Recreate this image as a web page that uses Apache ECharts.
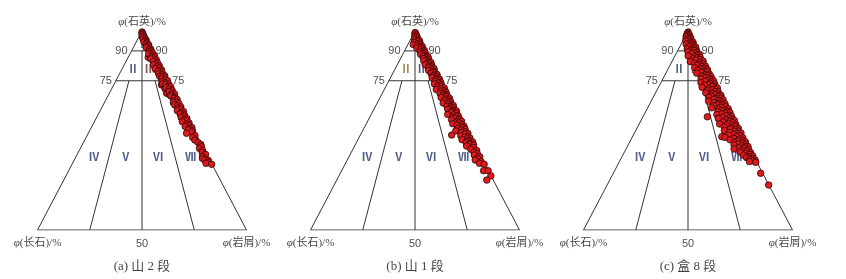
<!DOCTYPE html>
<html><head><meta charset="utf-8">
<script src="https://cdn.jsdelivr.net/npm/echarts@6/dist/echarts.min.js"></script>
<style>html,body{margin:0;padding:0;background:#fff}#c{width:846px;height:279px}</style>
</head><body><div id="c"></div>
<script>
// ---- data: [quartz %, feldspar %] (lithics = 100 - Q - F) ----
const panelCaptions = ['(a) 山 2 段', '(b) 山 1 段', '(c) 盒 8 段'];
const apexTitle = 'φ(石英)/%';
const leftTitle = 'φ(长石)/%';
const rightTitle = 'φ(岩屑)/%';
const tickLabels = ['90', '75', '50'];
const regionNames = ['Ⅰ','Ⅱ','Ⅲ','Ⅳ','Ⅴ','Ⅵ','Ⅶ'];

const ptsA = [
[99.5,0.2],[99,0.5],[98.5,0.3],[98,1],[97.5,0.4],[97,1.2],[96.5,0.5],[96,1.5],[95.5,0.3],[95,0.9],[94.5,1.8],[94,0.6],[93.5,1.2],[93,0.3],[92.5,1.6],[92,0.8],[91.5,2.2],[91,0.4],[90.5,1.3],[90,0.6],
[86.8,3.6],
[89.5,1.8],[89,0.5],[88.5,2.5],[88,1],[87.5,0.3],[87,1.8],[86.5,0.8],[86,2.8],[85.5,0.4],[85,1.5],[84.5,2.4],[84,0.6],[83.5,1.4],[83,3],[82.5,0.5],[82,2],[81.5,1],[81,3.2],[80.5,0.4],[80,1.6],[79.7,2.4],[79,0.8],[78.5,2.8],[78,1.4],[77.5,0.4],[77.2,2.9],[77,1.8],[76.5,0.8],[76,2.5],[75.5,1.2],[75,0.3],[74.5,3.2],[74,1.8],
[72.9,4.2],[68.7,3.9],[67.8,2.8],[73.5,3.4],[71,3.5],
[73.5,0.6],[73,2.2],[72.3,1.2],[72,0.3],[71.5,2.6],[70.8,1.5],[70.2,0.5],[69.6,2.2],[69,1],[68.4,0.2],[68,1.8],[67.3,2.5],[66.8,0.8],[66.2,1.6],[65.6,0.4],[65,2.4],[64.5,1.2],[64,3],[63.5,0.6],[62.8,2.9],[62.4,1.6],[61.8,0.5],[61.2,2.3],[60.6,1.2],[60,3.1],[59.5,0.4],[59,1.8],[58.3,2.6],[57.8,0.8],[57.2,1.6],[56.5,3],[56,0.5],[55.5,2.1],[55,1.2],[54.4,3.5],[53.8,0.6],[53.2,2],[52.6,1.2],[52,3.3],[51.5,0.4],[51,1.8],[50.3,2.6],[49.8,0.9],[49.2,1.7],[48.6,4.4],
[47.5,0.9],[46.5,2.5],[45.2,2.1],[44,1.2],[43,0.4],[41.9,0.6],[41,2],[40,1],[39,1.7],[38,0.6],[37,2.5],[36,3.1],[35.2,2.4],[35,0.8],[34,1.4],[33.5,2.6],[33,0.2]
];

const ptsB = [
[99.2,0.3],[98.6,0.8],[98,0.3],[97.5,1.2],[97,0.5],[96.6,1.8],[96,0.8],[95.5,2.4],[95.2,0.3],[94.8,1.4],[94.2,3.3],[94,0.6],[93.6,2],[93.2,4.2],[93,1],[92.6,2.8],[92.2,0.4],[91.8,1.6],[91.4,3.4],[91,0.8],[90.6,2.2],[90.2,0.4],[89.8,1.5],[89.4,2.8],[89,0.6],[88.6,1.8],[88.2,3.2],[87.8,0.9],[87.4,2.2],[87,0.3],[86.6,1.4],[86.2,2.8],[85.8,0.6],[85.4,1.9],[85,3.3],[84.6,1],[84.2,0.3],[83.8,2.4],[83.4,1.3],[83,3.6],[82.6,0.6],[82.2,2],[81.8,1],[81.4,2.9],[81,0.4],[80.6,1.7],[80.2,3.4],[79.8,0.8],[79.4,2.3],[79,1.2],[78.6,3],[78.2,0.4],[77.8,1.8],[77.4,2.7],[77,0.8],[76.6,3.5],[76.2,1.5],[75.8,0.4],[75.4,2.4],[75,1.1],
[74.6,3.2],[74.2,0.6],[73.8,1.8],[73.4,4],[73,0.9],[72.6,2.6],[72.2,1.4],[71.8,3.4],[71.4,0.3],[71,2],[70.6,4.5],[70.2,1.1],[69.8,2.9],[69.4,0.5],[69,1.7],[68.6,3.7],[68.2,2.3],[67.8,0.8],[67.4,3],[67,1.5],[66.6,4.2],[66.2,0.4],[65.8,2.4],[65.4,1.2],[65,3.4],[64.6,0.7],[64.2,2],[63.8,4.6],[63.4,1.4],[63,2.8],[62.6,0.4],[62.2,3.6],[61.8,1.8],[61.4,0.9],[61,2.6],[60.6,4],[60.2,1.3],[59.8,0.3],[59.4,2.2],[59,3.3],[58.6,1],[58.1,5.3],[57.8,2.5],[57.4,0.6],[57,1.7],[56.6,3.8],[56.2,2.8],[55.8,0.9],[55.4,4.8],[55,1.8],[54.6,0.4],[54.2,3],[53.8,2],[53.4,5.2],[53,1],[52.6,3.6],[52.2,0.5],[51.8,2.4],[51.4,1.4],[51,4],[50.6,0.7],[50.2,2.8],[49.8,5.6],[49.4,1.6],[49,3.4],[48.6,0.4],[48.2,2.2],[47.7,8.6],[47.4,4.4],[47,1.2],[46.6,3],[46.2,0.6],[45.8,2],[45.4,4.8],[45,1.4],[44.6,2.8],[44.2,0.3],[43.8,3.6],[43.4,1.6],[43,2.4],[42.6,0.6],[42.2,4.2],
[41.5,1.4],[40.6,3],[40,0.5],[39.2,2.2],[38.4,1],[37.7,2.8],[36.8,0.6],[36,2],[35.2,3.6],[34.4,1.2],[33.5,2.4],[33,0.4],
[29.8,2.3],[29.8,0.1],[27.2,0.1],[25.1,3.1]
];

const ptsC = [
[99.5,0.2],[99,0.6],[98.5,1.2],[98.2,0.3],[97.8,1.8],[97.4,0.8],[97,2.4],[96.6,0.4],[96.2,1.4],[95.8,3],[95.5,0.8],[95.1,2],[94.8,3.6],[94.4,0.4],[94,1.5],[93.7,2.8],[93.3,4.2],[93,0.9],[92.6,2.2],[92.2,3.5],[91.9,0.4],[91.5,1.6],[91.1,4.8],[90.8,2.8],[90.4,0.8],[90,3.8],[90.2,1.9],
[89.6,5.2],[89.3,1.2],[89,2.6],[88.6,4],[88.3,0.4],[87.9,1.8],[87.5,6.2],[87.2,3.2],[86.8,0.8],[86.4,2.4],[86,4.6],[85.7,1.4],[85.3,3.6],[84.9,0.3],[84.6,6.6],[84.2,2],[83.8,5],[83.5,1],[83.1,3],[82.8,4.4],[82.4,0.5],[82,2.4],[81.6,6],[81.3,1.5],[80.9,3.6],[80.6,0.4],[80.2,5.2],[79.8,2.2],[79.5,1],[79.1,4],[78.8,6.4],[78.4,0.6],[78,2.8],[77.7,1.6],[77.3,4.8],[77,0.4],[76.6,3.4],[76.3,2],[75.9,5.8],[75.6,1],[75.2,3],[75,0.3],
[74.7,4.4],[74.4,1.6],[74,6.8],[73.7,2.6],[73.4,0.5],[73,3.8],[72.7,5.6],[72.4,1.2],[72,2.4],[71.7,7.4],[71.4,0.3],[71,4.6],[70.7,1.8],[70.4,3.2],[70,5.8],[69.7,0.8],[69.4,2.6],[69,7],[68.7,4],[68.4,1.4],[68,3],[67.7,0.4],[67.4,5.2],[67,2],[66.7,6.6],[66.4,1],[66,3.6],[65.7,4.8],[65.4,0.5],[65,2.6],[64.7,7.8],[64.4,1.6],[64,5.6],[63.7,3.2],[63.4,0.6],[63,4.4],[62.7,2.2],[62.4,6.4],[62,1],[61.7,3.4],[61.4,8],[61,0.3],[60.7,5],[60.4,2.2],[60,3.8],[59.7,1.2],[59.4,6],[59,0.4],[58.7,2.8],[58.4,4.6],[58,7.2],[57.7,1.6],[57.4,3.2],[56.9,12.3],[56.1,7.4],[57,0.6],[56.6,5.4],[56.3,2.2],[56,7.4],[55.6,1],[55.3,4],[55,0.3],[54.7,2.8],[54.3,6.2],[54,1.6],[53.7,3.6],[53.3,8.2],[53,0.6],[52.7,5],[52.4,2.4],[52,1.2],[51.7,6.8],[51.4,3.4],[51,0.4],[50.7,4.4],[50.4,2],[50,7.6],[49.7,1],[49.4,3],[49,5.6],[48.7,0.3],[48.4,2.2],[48,4],[47.7,6.8],[47.4,1.4],[47,3.2],[46.9,10.4],[46.5,9],[46.3,0.6],[46,5],[45.7,2.4],[45.3,7.2],[45,1.2],[44.7,3.8],[44.3,0.4],[44,5.8],[43.7,2],[43.3,4.4],[43,1],[42.7,6.6],[42.3,3],[42,0.3],[41.7,1.8],[41.3,5],[41,2.8],[40.7,7.6],[40.4,0.8],[40,4],
[39.6,2],[39.2,5.4],[38.8,0.6],[38.4,3.2],[38,1.4],[37.6,4.6],[37.2,0.4],[36.8,2.4],[36.4,3.8],[36,1],[35.6,2.8],[35.2,0.3],[34.8,1.8],[34.4,3.4],[34,0.6],
[28.5,1],[22.6,0.1]
];

// classification boundaries in ternary [Q, F, R] percent
const frame = [[100,0,0],[0,100,0],[0,0,100],[100,0,0]];
const q90 = [[90,10,0],[90,0,10]];
const q75 = [[75,25,0],[75,0,25]];
const mid = [[90,5,5],[0,50,50]];
const fr31 = [[75,18.75,6.25],[0,75,25]];
const fr13 = [[75,6.25,18.75],[0,25,75]];
// region label anchors [Q, F, R]
const regionAnchors = [[93.5,3.25,3.25],[81,13.8,5.2],[81,5.5,13.5],[37,54.5,8.5],[37,39.3,23.7],[37,23.7,39.3],[37,8.3,54.7]];

// ---- helpers ----
const tern = t => [(t[2]-t[1])/100, t[0]/100];          // [Q,F,R] -> cartesian value
const qf = p => tern([p[0], p[1], 100-p[0]-p[1]]);

const panels = [ptsA, ptsB, ptsC];
const centers = [142, 415, 688];
const HALF = 104.5, TOP = 31, H = 199;

const grids = [], xAxes = [], yAxes = [], series = [];
const lineStyle = {color:'#333', width:1, opacity:1};
const serifCJK = '"Liberation Serif","Noto Sans CJK SC",serif';
const richPhi = {i:{fontStyle:'italic', fontFamily:'"Liberation Serif",serif', fontSize:11, color:'#111'}};
const phiText = s => '{i|φ}' + s.slice(1);
const NAVY = '#27356a', RED = '#6e2424', OCH = '#8a6a30';
const regionColors = [
  [NAVY,NAVY,RED,NAVY,NAVY,NAVY,NAVY],
  [NAVY,OCH,NAVY,NAVY,NAVY,NAVY,NAVY],
  [NAVY,NAVY,RED,NAVY,NAVY,NAVY,NAVY]
];

panels.forEach((pts, i) => {
  grids.push({left: centers[i]-HALF, top: TOP, width: 2*HALF, height: H});
  xAxes.push({type:'value', gridIndex:i, min:-1, max:1, show:false});
  yAxes.push({type:'value', gridIndex:i, min:0, max:1, show:false});
  const ax = {xAxisIndex:i, yAxisIndex:i};
  series.push({type:'lines', ...ax, coordinateSystem:'cartesian2d', polyline:true, silent:true, z:1,
    lineStyle, data:[frame,q90,q75,mid,fr31,fr13].map(seg => ({coords: seg.map(tern)}))});
  series.push({type:'scatter', ...ax, z:5, symbol:'circle', symbolSize:6.5, silent:true,
    itemStyle:{color:'#e01a1c', borderColor:'#2b0505', borderWidth:0.8, opacity:1},
    data: pts.map(qf)});
  const txt = (t, name, pos, dist, extra) => ({value: tern(t), name,
    label: Object.assign({show:true, position:pos, distance:dist}, extra||{})});
  const tickFont = {fontFamily:'"Liberation Sans",sans-serif', fontSize:11, color:'#222'};
  const titleFont = {fontFamily:serifCJK, fontSize:11, color:'#111', rich:richPhi};
  const labels = [
    txt([90,10,0], tickLabels[0], 'left', 4, tickFont),
    txt([90,0,10], tickLabels[0], 'right', 3, tickFont),
    txt([75,25,0], tickLabels[1], 'left', 4, tickFont),
    txt([75,0,25], tickLabels[1], 'right', 4, tickFont),
    txt([0,50,50], tickLabels[2], 'bottom', 8, tickFont),
    txt([100,0,0], phiText(apexTitle), 'top', 3, titleFont),
    txt([0,100,0], phiText(leftTitle), 'bottom', 8, titleFont),
    txt([0,0,100], phiText(rightTitle), 'bottom', 8, titleFont),
    txt([0,50,50], panelCaptions[i], 'bottom', 30, {fontFamily:serifCJK, fontSize:13, color:'#111'})
  ];
  regionAnchors.forEach((a, k) => labels.push(txt(a, regionNames[k], 'inside', 0,
    {fontFamily:'"Noto Sans CJK SC",serif', fontSize:11, fontWeight:'bold', color:regionColors[i][k]})));
  series.push({type:'scatter', ...ax, z:3, symbolSize:0, silent:true,
    label:{formatter: p => p.name}, data: labels});
});

const chart = echarts.init(document.getElementById('c'), null, {renderer:'canvas'});
chart.setOption({animation:false, backgroundColor:'#fff', grid:grids, xAxis:xAxes, yAxis:yAxes, series});
</script></body></html>
